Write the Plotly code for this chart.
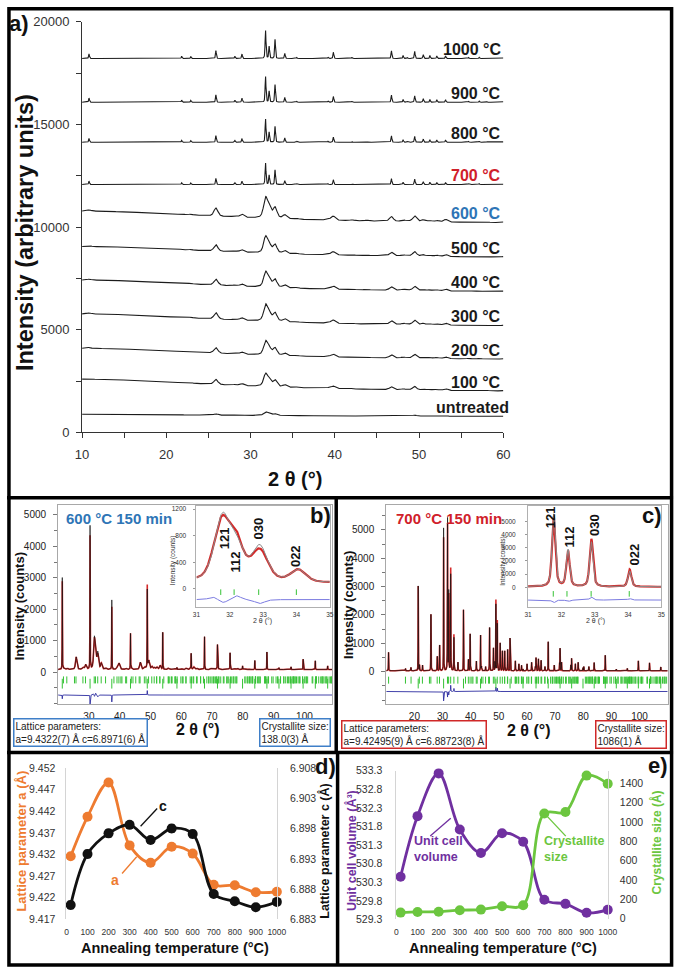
import numpy as np
import plotly.graph_objects as go

# ======================= DATA =======================
# (a) XRD patterns of the annealed samples (arbitrary units, stacked)
A_LABELS = ['untreated', '100 °C', '200 °C', '300 °C', '400 °C', '500 °C',
            '600 °C', '700 °C', '800 °C', '900 °C', '1000 °C']
A_OFFSET = [766, 1922, 3480, 5102, 6768, 8455, 10126, 12070, 14130, 16080, 18210]
A_AMORPH = [114, 668, 612, 668, 652, 595, 651, 0, 0, 0, 0]
A_NANO_SCALE = [0.17, 0.62, 0.68, 0.80, 0.74, 0.80, 1.00, 0, 0, 0, 0]
A_CRYST_SCALE = [0, 0, 0, 0, 0, 0, 0, 0.77, 0.83, 0.92, 1.00]
AMORPH_HWHM = 20.0

# hydroxyapatite reflections (2 theta, deg) and peak heights
HAP_POS = [10.82, 16.84, 18.78, 21.82, 22.90, 25.88, 28.13, 28.97, 31.77, 32.20,
           32.90, 34.05, 35.48, 39.20, 39.82, 42.03, 43.80, 45.31, 46.71, 48.10,
           48.62, 49.47, 50.49, 51.28, 52.10, 53.14, 55.88, 57.13, 58.07, 60.03,
           61.66, 63.01, 64.08, 65.03, 66.40, 69.70, 71.60, 72.30, 75.60, 77.20,
           78.20, 80.20, 82.00]
HAP_H_1000 = [224, 20, 30, 112, 96, 384, 112, 224, 1391, 592,
              927, 256, 50, 60, 304, 50, 30, 20, 384, 144,
              40, 352, 192, 144, 128, 128, 50, 60, 30, 30,
              0, 0, 0, 0, 0, 0, 0, 0, 0, 0, 0, 0, 0]
HAP_H_600 = [60, 0, 0, 30, 40, 400, 60, 150, 930, 480,
             520, 190, 40, 60, 200, 40, 40, 20, 230, 70,
             30, 280, 90, 60, 70, 130, 40, 30, 30, 30,
             40, 40, 80, 40, 20, 30, 30, 30, 20, 30, 40, 20, 20]
HAP_H_700 = [650, 80, 120, 200, 200, 1990, 520, 925, 5500, 2800,
             3400, 1200, 300, 400, 1300, 350, 300, 150, 1560, 800,
             300, 1700, 1000, 700, 700, 750, 350, 250, 200, 250,
             300, 350, 420, 380, 150, 200, 250, 300, 200, 250, 300, 150, 150]
HAP_FWHM_600 = 0.55
HAP_FWHM_CRYST = 0.12

# LaB6 internal standard
LAB6_POS = [21.36, 30.38, 37.44, 43.51, 48.96, 53.99, 58.60, 63.22, 67.55, 71.76,
            75.87, 79.91, 83.89, 87.82, 91.74, 95.65, 99.58, 103.54, 107.55]
LAB6_H_B = [2920, 4560, 2210, 1166, 2500, 1216, 60, 486, 1080, 768,
            540, 110, 300, 560, 60, 90, 330, 280, 120]
LAB6_H_C = [2990, 5030, 2150, 1295, 2340, 1190, 60, 450, 1060, 780,
            450, 110, 300, 550, 60, 90, 350, 280, 140]
LAB6_FWHM = 0.10

# misfit (observed - calculated) features of the refinements
MIS_B_POS = [21.36, 30.38, 31.50, 31.80, 32.20, 32.90, 37.44, 48.96]
MIS_B_H = [-120, -320, 40, -50, 60, -60, -220, 140]
MIS_B_W = [0.10, 0.10, 0.30, 0.30, 0.30, 0.35, 0.10, 0.10]
MIS_C_POS = [30.38, 31.77, 32.20, 32.90, 34.05, 48.96, 49.47]
MIS_C_H = [-330, -200, -120, 220, 110, 150, 120]
MIS_C_W = [0.10, 0.12, 0.12, 0.12, 0.12, 0.10, 0.10]

BG_B = 80
BG_C = 30
LATT_B = (9.4322, 6.8971)      # a, c (Angstrom) of the 600 C refinement
LATT_C = (9.42495, 6.88723)    # a, c of the 700 C refinement
WAVELENGTH = 1.5406

# (d), (e) refined parameters vs annealing temperature
TEMP = [20, 100, 200, 300, 400, 500, 600, 700, 800, 900, 1000]
LATT_A = [9.4316, 9.4407, 9.4486, 9.4341, 9.4301, 9.4338, 9.4322, 9.4250, 9.4249, 9.4233, 9.4234]
LATT_A_ERR = [0.0007, 0.0007, 0.0007, 0.0006, 0.0006, 0.0007, 0.0007, 0.0001, 0.0001, 0.0001, 0.0001]
LATT_CP = [6.8854, 6.8938, 6.8972, 6.8986, 6.8961, 6.8980, 6.8971, 6.8872, 6.8860, 6.8850, 6.8859]
LATT_C_ERR = [0.0006, 0.0006, 0.0006, 0.0005, 0.0005, 0.0006, 0.0006, 0.0001, 0.0001, 0.0001, 0.0001]
VOLUME = [530.45, 532.08, 533.23, 531.72, 531.09, 531.62, 531.39, 529.83, 529.72, 529.48, 529.56]
CRYST_SIZE = [61, 68, 70, 86, 92, 126, 138, 1086, 1101, 1478, 1394]

# ======================= HELPERS =======================
W, H = 685, 977
def px(x):
    return x / W
def py(y):
    return 1 - y / H

FONT = 'Liberation Sans, Arial, Helvetica, sans-serif'
ORANGE = '#EE7B30'
PURPLE = '#7030A0'
GREEN = '#6CC63F'
BLUE_T = '#2E75B6'
RED_T = '#D0202A'
OBS_RED = '#D42A2A'
TICK_GREEN = '#35C235'


def profile(x, pos, hts, fwhm, eta=0.5):
    fw = np.broadcast_to(np.asarray(fwhm, dtype=float), (len(pos),))
    y = np.zeros_like(x)
    for p, h, w in zip(pos, hts, fw):
        if h == 0:
            continue
        d = (x - p) / (w / 2.0)
        y += h * (eta / (1 + d * d) + (1 - eta) * np.exp(-np.log(2) * d * d))
    return y


def bragg_hex(a, c, lo, hi):
    out = set()
    for h in range(0, 14):
        for k in range(0, h + 1):
            for l in range(0, 18):
                if h == 0 and k == 0 and (l == 0 or l % 2 == 1):
                    continue
                inv_d2 = 4.0 / 3.0 * (h * h + h * k + k * k) / a ** 2 + l * l / c ** 2
                s = WAVELENGTH * np.sqrt(inv_d2) / 2.0
                if s >= 1:
                    continue
                tt = 2 * np.degrees(np.arcsin(s))
                if lo <= tt <= hi:
                    out.add(round(tt, 3))
    return sorted(out)


fig = go.Figure()

# ======================= PANEL A =======================
xa = np.arange(10, 60.0001, 0.02)
for i, lab in enumerate(A_LABELS):
    ya = (A_OFFSET[i]
          + A_AMORPH[i] / (1 + ((xa - 10) / AMORPH_HWHM) ** 2)
          + A_NANO_SCALE[i] * profile(xa, HAP_POS, HAP_H_600, HAP_FWHM_600)
          + A_CRYST_SCALE[i] * profile(xa, HAP_POS, HAP_H_1000, HAP_FWHM_CRYST))
    fig.add_trace(go.Scatter(x=xa, y=ya, mode='lines', xaxis='x', yaxis='y',
                             line=dict(color='#1c1c1c', width=1.1),
                             showlegend=False, hoverinfo='skip'))
    col = BLUE_T if lab == '600 °C' else (RED_T if lab == '700 °C' else '#1a1a1a')
    fig.add_annotation(x=60, y=ya[-1], xref='x', yref='y', text='<b>%s</b>' % lab,
                       showarrow=False, xanchor='right', yanchor='bottom',
                       xshift=8 if lab == 'untreated' else 0, yshift=-2,
                       font=dict(family=FONT, size=16, color=col))

# ======================= PANEL B / C (Rietveld) =======================
def rietveld(xgrid, hap_h, hap_w, lab6_h, bg, mis_pos, mis_h, mis_w):
    calc = bg + profile(xgrid, HAP_POS, hap_h, hap_w) + profile(xgrid, LAB6_POS, lab6_h, LAB6_FWHM)
    obs = calc + profile(xgrid, mis_pos, mis_h, mis_w)
    return obs, calc


def add_rietveld(xg, obs, calc, xa_, ya_, diff_off, tick_off, ticks_hap, ticks_lab6,
                 inset=False):
    if inset:
        fig.add_trace(go.Scatter(x=xg, y=obs, mode='lines', xaxis=xa_, yaxis=ya_,
                                 line=dict(color=OBS_RED, width=2.2), showlegend=False, hoverinfo='skip'))
        fig.add_trace(go.Scatter(x=xg, y=calc, mode='lines', xaxis=xa_, yaxis=ya_,
                                 line=dict(color='#8a8a8a', width=1.0), showlegend=False, hoverinfo='skip'))
        dcol, dw, tsize = '#7b7be0', 1.0, 4
    else:
        fig.add_trace(go.Scatter(x=xg, y=obs, mode='lines', xaxis=xa_, yaxis=ya_,
                                 line=dict(color=OBS_RED, width=1.6), showlegend=False, hoverinfo='skip'))
        fig.add_trace(go.Scatter(x=xg, y=calc, mode='lines', xaxis=xa_, yaxis=ya_,
                                 line=dict(color='#111111', width=0.7), showlegend=False, hoverinfo='skip'))
        dcol, dw, tsize = '#2c2ca0', 0.9, 5
    fig.add_trace(go.Scatter(x=xg, y=obs - calc + diff_off, mode='lines', xaxis=xa_, yaxis=ya_,
                             line=dict(color=dcol, width=dw), showlegend=False, hoverinfo='skip'))
    fig.add_trace(go.Scatter(x=ticks_hap, y=[tick_off] * len(ticks_hap), mode='markers',
                             xaxis=xa_, yaxis=ya_, showlegend=False, hoverinfo='skip',
                             marker=dict(symbol='line-ns', size=tsize,
                                         line=dict(color=TICK_GREEN, width=1))))
    if ticks_lab6 is not None:
        fig.add_trace(go.Scatter(x=ticks_lab6, y=[tick_off - 120] * len(ticks_lab6), mode='markers',
                                 xaxis=xa_, yaxis=ya_, showlegend=False, hoverinfo='skip',
                                 marker=dict(symbol='line-ns', size=tsize + 2,
                                             line=dict(color=TICK_GREEN, width=1))))


# panel b main
xb = np.arange(20, 109.0001, 0.02)
obs_b, calc_b = rietveld(xb, HAP_H_600, HAP_FWHM_600, LAB6_H_B, BG_B, MIS_B_POS, MIS_B_H, MIS_B_W)
add_rietveld(xb, obs_b, calc_b, 'x2', 'y2', -730, -250,
             bragg_hex(LATT_B[0], LATT_B[1], 20, 109), LAB6_POS)
# panel b inset
xib = np.arange(31, 35.0001, 0.01)
obs_ib, calc_ib = rietveld(xib, HAP_H_600, HAP_FWHM_600, LAB6_H_B, BG_B, MIS_B_POS, MIS_B_H, MIS_B_W)
add_rietveld(xib, obs_ib, calc_ib, 'x3', 'y3', -160, -49,
             bragg_hex(LATT_B[0], LATT_B[1], 31, 35), None, inset=True)
# panel c main
xc = np.arange(10, 110.0001, 0.02)
obs_c, calc_c = rietveld(xc, HAP_H_700, HAP_FWHM_CRYST, LAB6_H_C, BG_C, MIS_C_POS, MIS_C_H, MIS_C_W)
add_rietveld(xc, obs_c, calc_c, 'x4', 'y4', -700, -300,
             bragg_hex(LATT_C[0], LATT_C[1], 10, 110), LAB6_POS)
# panel c inset
xic = np.arange(31, 35.0001, 0.005)
obs_ic, calc_ic = rietveld(xic, HAP_H_700, HAP_FWHM_CRYST, LAB6_H_C, BG_C, MIS_C_POS, MIS_C_H, MIS_C_W)
add_rietveld(xic, obs_ic, calc_ic, 'x5', 'y5', -970, -500,
             bragg_hex(LATT_C[0], LATT_C[1], 31, 35), None, inset=True)

# ======================= PANEL D =======================
fig.add_trace(go.Scatter(x=TEMP, y=LATT_A, mode='lines+markers', xaxis='x6', yaxis='y6',
                         line=dict(color=ORANGE, width=2.8, shape='spline'),
                         marker=dict(size=10, color=ORANGE),
                         error_y=dict(type='data', array=LATT_A_ERR, color=ORANGE, thickness=1.2, width=3),
                         cliponaxis=False, showlegend=False, hoverinfo='skip'))
fig.add_trace(go.Scatter(x=TEMP, y=LATT_CP, mode='lines+markers', xaxis='x6', yaxis='y7',
                         line=dict(color='#111111', width=2.8, shape='spline'),
                         marker=dict(size=10, color='#111111'),
                         error_y=dict(type='data', array=LATT_C_ERR, color='#111111', thickness=1.2, width=3),
                         cliponaxis=False, showlegend=False, hoverinfo='skip'))

# ======================= PANEL E =======================
fig.add_trace(go.Scatter(x=TEMP, y=VOLUME, mode='lines+markers', xaxis='x7', yaxis='y8',
                         line=dict(color=PURPLE, width=2.8, shape='spline'),
                         marker=dict(size=10, color=PURPLE),
                         cliponaxis=False, showlegend=False, hoverinfo='skip'))
fig.add_trace(go.Scatter(x=TEMP, y=CRYST_SIZE, mode='lines+markers', xaxis='x7', yaxis='y9',
                         line=dict(color=GREEN, width=2.8, shape='spline'),
                         marker=dict(size=10, color=GREEN),
                         cliponaxis=False, showlegend=False, hoverinfo='skip'))

# ======================= AXES =======================
def axis(**kw):
    base = dict(showgrid=False, zeroline=False, showline=False, ticks='',
                tickfont=dict(family=FONT, size=10, color='#222'))
    base.update(kw)
    return base


def fmt(vals, nd):
    return ['%.*f' % (nd, v) for v in vals]


a_xt = [10, 20, 30, 40, 50, 60]
a_yt = [0, 5000, 10000, 15000, 20000]
d_lt = [9.417 + 0.005 * i for i in range(8)]
d_rt = [6.883 + 0.005 * i for i in range(6)]
e_lt = [529.3 + 0.5 * i for i in range(9)]
e_rt = [0, 200, 400, 600, 800, 1000, 1200, 1400]
dec = list(range(0, 1001, 100))

layout_axes = dict(
    xaxis=axis(domain=[px(77), px(509)], range=[10, 60], anchor='y',
               tickvals=a_xt, ticks='outside', ticklen=5, tickcolor='#333',
               minor=dict(dtick=5, tick0=0, ticks='outside', ticklen=5, tickcolor='#333'),
               showline=True, linecolor='#333', linewidth=1,
               tickfont=dict(family=FONT, size=13, color='#333'), ticklabelstandoff=5),
    yaxis=axis(domain=[py(432), py(15)], range=[0, 20000], anchor='x',
               tickvals=a_yt, ticktext=[str(v) for v in a_yt], ticks='outside', ticklen=5,
               tickcolor='#333',
               minor=dict(dtick=2500, tick0=0, ticks='outside', ticklen=5, tickcolor='#333'),
               showline=True, linecolor='#333', linewidth=1,
               tickfont=dict(family=FONT, size=13, color='#333'), ticklabelstandoff=4),
    # b main
    xaxis2=axis(domain=[px(52.4), px(333.4)], range=[20, 109], anchor='y2',
                tickvals=[30, 40, 50, 60, 70, 80, 90, 100], showline=True, mirror=True,
                linecolor='#a8a8a8', linewidth=1, ticklabelstandoff=3),
    yaxis2=axis(domain=[py(708.3), py(506)], range=[-1030, 5310], anchor='x2',
                tickvals=[0, 1000, 2000, 3000, 4000, 5000], ticks='outside', ticklen=4,
                tickcolor='#777', minor=dict(dtick=500, tick0=0, ticks='outside', ticklen=3, tickcolor='#777'),
                showline=True, mirror=True, linecolor='#a8a8a8', linewidth=1, ticklabelstandoff=5),
    # b inset
    xaxis3=axis(domain=[px(194.3), px(331)], range=[31, 35], anchor='y3',
                tickvals=[31, 32, 33, 34, 35], showline=True, mirror=True,
                linecolor='#b0b0b0', linewidth=1, tickfont=dict(family=FONT, size=6.5, color='#333'),
                ticklabelstandoff=2),
    yaxis3=axis(domain=[py(609), py(507)], range=[-267, 1244], anchor='x3',
                tickvals=[0, 400, 800, 1200], showline=True, mirror=True,
                linecolor='#b0b0b0', linewidth=1, ticks='outside', ticklen=2, tickcolor='#999',
                tickfont=dict(family=FONT, size=6.5, color='#333'), ticklabelstandoff=6),
    # c main
    xaxis4=axis(domain=[px(388.9), px(677.5)], range=[10, 110], anchor='y4',
                tickvals=[20, 30, 40, 50, 60, 70, 80, 90, 100], showline=True, mirror=True,
                linecolor='#a8a8a8', linewidth=1, ticklabelstandoff=3),
    yaxis4=axis(domain=[py(708.3), py(506)], range=[-1156, 5868], anchor='x4',
                tickvals=[0, 1000, 2000, 3000, 4000, 5000], ticks='outside', ticklen=4,
                tickcolor='#777', minor=dict(dtick=500, tick0=0, ticks='outside', ticklen=3, tickcolor='#777'),
                showline=True, mirror=True, linecolor='#a8a8a8', linewidth=1, ticklabelstandoff=5),
    # c inset
    xaxis5=axis(domain=[px(534.3), px(671)], range=[31, 35], anchor='y5',
                tickvals=[31, 32, 33, 34, 35], showline=True, mirror=True,
                linecolor='#b0b0b0', linewidth=1, tickfont=dict(family=FONT, size=6.5, color='#333'),
                ticklabelstandoff=2),
    yaxis5=axis(domain=[py(609), py(507)], range=[-1470, 6142], anchor='x5',
                tickvals=[0, 1000, 2000, 3000, 4000, 5000], showline=True, mirror=True,
                linecolor='#b0b0b0', linewidth=1, ticks='outside', ticklen=2, tickcolor='#999',
                tickfont=dict(family=FONT, size=6.5, color='#333'), ticklabelstandoff=8),
    # d
    xaxis6=axis(domain=[px(61), px(276.7)], range=[0, 1000], anchor='y6',
                tickvals=dec, tickfont=dict(family=FONT, size=8.5, color='#333'), ticklabelstandoff=6),
    yaxis6=axis(domain=[py(926.7), py(772.7)], range=[9.417, 9.452], anchor='x6',
                tickvals=d_lt, ticktext=fmt(d_lt, 3), showline=True, linecolor='#d4d4d4',
                tickfont=dict(family=FONT, size=10.5, color='#333'), ticklabelstandoff=8),
    yaxis7=axis(overlaying='y6', side='right', range=[6.883, 6.908], anchor='x6',
                tickvals=d_rt, ticktext=fmt(d_rt, 3), showline=True, linecolor='#d4d4d4',
                tickfont=dict(family=FONT, size=10.5, color='#333'), ticklabelstandoff=10),
    # e
    xaxis7=axis(domain=[px(399.3), px(616)], range=[0, 1000], anchor='y8',
                tickvals=dec, tickfont=dict(family=FONT, size=8.5, color='#333'), ticklabelstandoff=6),
    yaxis8=axis(domain=[py(926.7), py(775.7)], range=[529.3, 533.3], anchor='x7',
                tickvals=e_lt, ticktext=fmt(e_lt, 1), showline=True, linecolor='#d4d4d4',
                tickfont=dict(family=FONT, size=10.5, color='#333'), ticklabelstandoff=11),
    yaxis9=axis(overlaying='y8', side='right', range=[-10, 1528], anchor='x7',
                tickvals=e_rt, ticktext=[str(v) for v in e_rt], showline=True, linecolor='#d4d4d4',
                tickfont=dict(family=FONT, size=10.5, color='#333'), ticklabelstandoff=9),
)

# ======================= TEXT =======================
def ann(x, y, text, size, color='#111', family=FONT, bold=True, angle=0,
        xanchor='center', yanchor='middle', align='center'):
    fig.add_annotation(x=px(x), y=py(y), xref='paper', yref='paper',
                       text=('<b>%s</b>' % text) if bold else text, showarrow=False,
                       font=dict(family=family, size=size, color=color), textangle=angle,
                       xanchor=xanchor, yanchor=yanchor, align=align)

# panel a
ann(12, 17, 'a)', 22)
ann(19, 229, 'Intensity (arbitrary units)', 23.5, angle=-90)
ann(295, 479, '2 θ (°)', 20)

# panel b
ann(58, 519, '600 °C 150 min', 15, color=BLUE_T, xanchor='left')
ann(321, 516, 'b)', 22)
ann(13, 609, 'Intensity (counts)', 13, angle=-90)
ann(196, 734, '2 θ (°)', 16)
ann(171, 562, 'Intensity (counts)', 6.5, bold=False, angle=-90, color='#333')
ann(262, 624, '2 θ (°)', 7, bold=False, color='#333')
for t, x, y in [('121', 223, 539), ('112', 234, 564), ('030', 258, 530), ('022', 296, 558)]:
    ann(x, y, t, 13, angle=-90)

# panel c
ann(397, 519, '700 °C 150 min', 15, color=RED_T, xanchor='left')
ann(661, 516, 'c)', 22)
ann(350, 607, 'Intensity (counts)', 13, angle=-90)
ann(535, 735, '2 θ (°)', 16)
ann(509, 562, 'Intensity (counts)', 6.5, bold=False, angle=-90, color='#333')
ann(603, 624, '2 θ (°)', 7, bold=False, color='#333')
for t, x, y in [('121', 557, 518), ('112', 577, 538), ('030', 603, 526), ('022', 643, 556)]:
    ann(x, y, t, 13, angle=-90)

# info boxes
BOX_BLUE = '#3F7FC8'
BOX_RED = '#D02828'
def box(x, y, text, col):
    fig.add_annotation(x=px(x), y=py(y), xref='paper', yref='paper', text=text,
                       showarrow=False, xanchor='left', yanchor='top', align='left',
                       bordercolor=col, borderwidth=1.5, borderpad=1, bgcolor='white',
                       font=dict(family=FONT, size=10, color='#222'))

box(6, 722.5, 'Lattice parameters:<br>a=%.4f(7) Å c=%.4f(6) Å' % LATT_B, BOX_BLUE)
box(258, 722.5, 'Crystallite size:<br>138.0(3) Å', BOX_BLUE)
box(343, 724.5, 'Lattice parameters:<br>a=%.5f(9) Å c=%.5f(8) Å' % LATT_C, BOX_RED)
box(603, 724.5, 'Crystallite size:<br>1086(1) Å', BOX_RED)

# panel d
ann(327, 771, 'd)', 22)
ann(15, 847, 'Lattice parameter a (Å)', 13, color=ORANGE, angle=-90)
ann(326, 857, 'Lattice parameter c (Å)', 12.5, angle=-90)
ann(172, 956, 'Annealing temperature (°C)', 14.5)
ann(160, 811, 'c', 14)
ann(111, 887, 'a', 14, color=ORANGE)

# panel e
ann(668, 770, 'e)', 22)
ann(354, 857, 'Unit cell volume (Å³)', 12.5, color=PURPLE, angle=-90)
ann(667, 848, 'Crystallite size (Å)', 12, color=GREEN, angle=-90)
ann(509, 956, 'Annealing temperature (°C)', 14.5)
ann(415, 855, 'Unit cell<br>volume', 12.5, color=PURPLE, xanchor='left', align='left')
ann(549, 855, 'Crystallite<br>size', 12.5, color=GREEN, xanchor='left', align='left')

# ======================= SHAPES =======================
shapes = []
def line(x0, y0, x1, y1, col='black', w=3.5):
    shapes.append(dict(type='line', xref='paper', yref='paper', x0=px(x0), y0=py(y0),
                       x1=px(x1), y1=py(y1), line=dict(color=col, width=w)))

shapes.append(dict(type='rect', xref='paper', yref='paper', x0=px(2), y0=py(973),
                   x1=px(681.5), y1=py(1.8), line=dict(color='black', width=3.5)))
line(0, 498.5, 683, 498.5)
line(337.6, 498.5, 337.6, 757)
line(0, 757, 683, 757)
line(339, 757, 339, 973)
# pointer lines
line(137, 832, 154, 814, '#111', 1.3)
line(118, 880, 133, 863, ORANGE, 1.3)
line(434, 842, 455, 824, PURPLE, 1.3)
line(573, 842, 554, 822, GREEN, 1.3)

fig.update_layout(width=W, height=H, autosize=False,
                  margin=dict(l=0, r=0, t=0, b=0, pad=0),
                  paper_bgcolor='white', plot_bgcolor='rgba(0,0,0,0)',
                  showlegend=False, shapes=shapes, **layout_axes)

fig.write_html('out.html', config={'displayModeBar': False, 'staticPlot': True},
               post_script="document.body.style.margin='0px';document.body.style.padding='0px';"
                           "document.documentElement.style.overflow='hidden';")
